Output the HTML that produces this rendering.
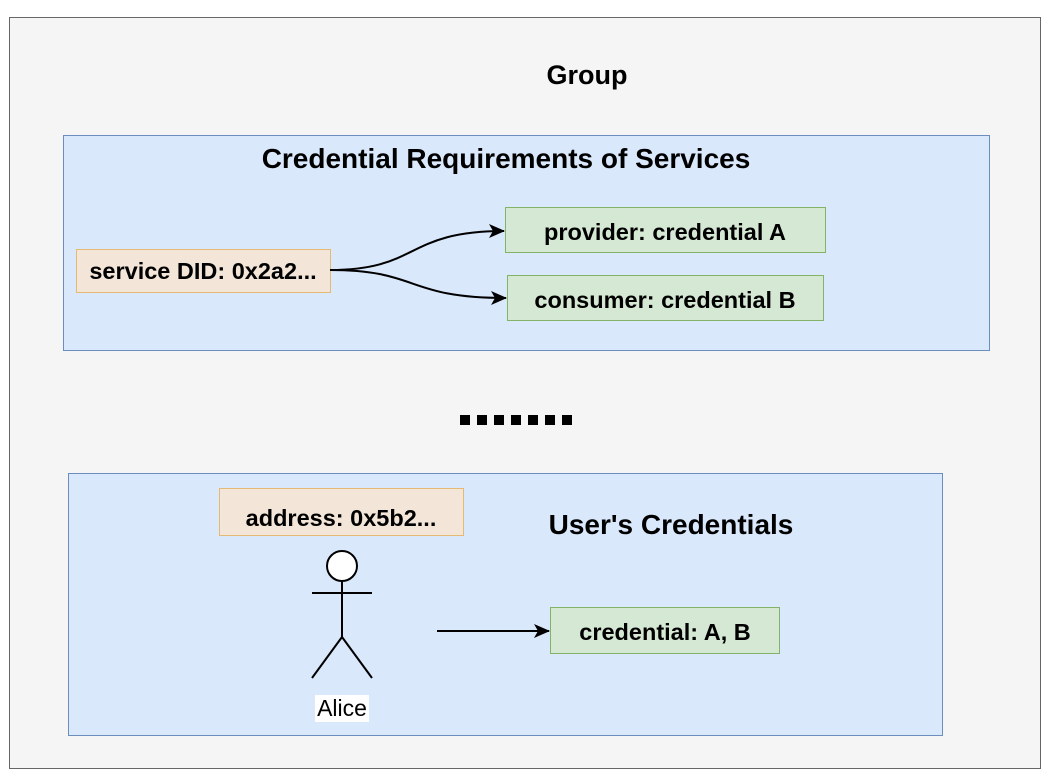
<!DOCTYPE html>
<html><head><style>body{margin:0;background:#fff}svg{display:block}text{font-family:"Liberation Sans",Arial,sans-serif}</style></head><body>
<svg width="1050" height="778" viewBox="0 0 1050 778" xmlns="http://www.w3.org/2000/svg">
<defs><marker id="a" markerWidth="16" markerHeight="14" refX="15" refY="7" orient="auto" markerUnits="userSpaceOnUse"><path d="M0,0 L16,7 L0,14 L4,7 Z" fill="#000"/></marker></defs>
<rect x="9.5" y="17.5" width="1031" height="751" fill="#f5f5f5" stroke="#666"/>
<text x="587" y="84" font-size="27" font-weight="bold" text-anchor="middle">Group</text>
<rect x="63.5" y="135.5" width="926" height="215" fill="#dae8fc" stroke="#6c8ebf"/>
<text x="506" y="168" font-size="28" font-weight="bold" text-anchor="middle">Credential Requirements of Services</text>
<rect x="76.5" y="249.5" width="254" height="43" fill="#f3e6d8" stroke="#e3b974"/>
<text x="203" y="279" font-size="23.5" font-weight="bold" text-anchor="middle">service DID: 0x2a2...</text>
<rect x="505.5" y="207.5" width="320" height="45" fill="#d5e8d4" stroke="#82b366"/>
<text x="665" y="240" font-size="23.5" font-weight="bold" text-anchor="middle">provider: credential A</text>
<rect x="507.5" y="275.5" width="316" height="45" fill="#d5e8d4" stroke="#82b366"/>
<text x="665" y="308" font-size="23.5" font-weight="bold" text-anchor="middle">consumer: credential B</text>
<path d="M330 270 C 420 270, 405 231, 504 231" fill="none" stroke="#000" stroke-width="2" marker-end="url(#a)"/>
<path d="M330 270 C 420 270, 405 298, 506 298" fill="none" stroke="#000" stroke-width="2" marker-end="url(#a)"/>
<g fill="#000"><rect x="460" y="415" width="10" height="10"/><rect x="477" y="415" width="10" height="10"/><rect x="494" y="415" width="10" height="10"/><rect x="511" y="415" width="10" height="10"/><rect x="528" y="415" width="10" height="10"/><rect x="545" y="415" width="10" height="10"/><rect x="562" y="415" width="10" height="10"/></g>
<rect x="68.5" y="473.5" width="874" height="262" fill="#dae8fc" stroke="#6c8ebf"/>
<rect x="219.5" y="488.5" width="244" height="47" fill="#f3e6d8" stroke="#e3b974"/>
<text x="341" y="526" font-size="23.5" font-weight="bold" text-anchor="middle">address: 0x5b2...</text>
<text x="671" y="534" font-size="28" font-weight="bold" text-anchor="middle">User's Credentials</text>
<g stroke="#000" stroke-width="2" fill="none"><circle cx="342" cy="566" r="15" fill="#fff"/><path d="M342 581 V637 M312 593 H372 M342 637 L312 678 M342 637 L372 678"/></g>
<rect x="315" y="695" width="54" height="27" fill="#fff"/>
<text x="342" y="716" font-size="23" text-anchor="middle">Alice</text>
<line x1="437" y1="631" x2="549" y2="631" stroke="#000" stroke-width="2" marker-end="url(#a)"/>
<rect x="550.5" y="607.5" width="229" height="46" fill="#d5e8d4" stroke="#82b366"/>
<text x="665" y="640" font-size="23.5" font-weight="bold" text-anchor="middle">credential: A, B</text>
</svg>
</body></html>
